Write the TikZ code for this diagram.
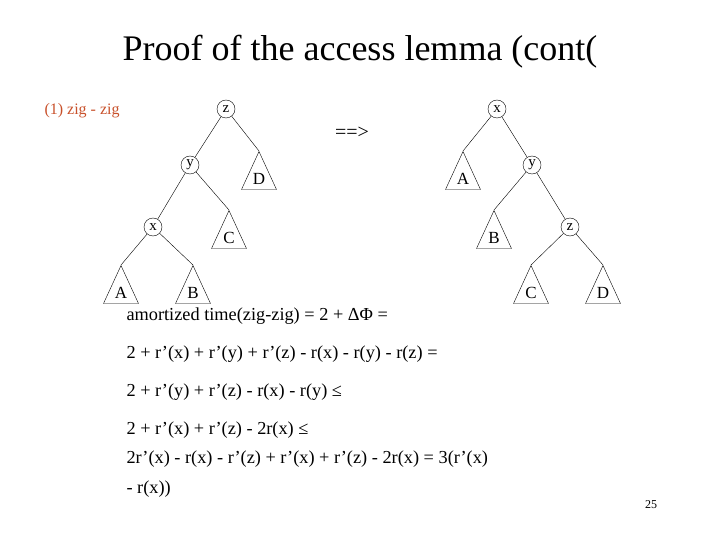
\documentclass[tikz,border=0pt]{standalone}
\usepackage{fontspec}
\usetikzlibrary{shapes.geometric}
\setmainfont{Liberation Serif}
\definecolor{zc}{HTML}{C8502A}
\begin{document}
\begin{tikzpicture}[x=1pt,y=-1pt,
  nd/.style={circle,draw,inner sep=0pt,minimum size=18pt,font=\fontsize{15}{15}\selectfont},
  tri/.style={draw,isosceles triangle,isosceles triangle stretches,shape border rotate=90,inner sep=0pt,minimum height=38pt,minimum width=35pt,anchor=apex},
  lbl/.style={font=\fontsize{17}{17}\selectfont},
  body/.style={anchor=west,font=\fontsize{18.3}{30}\selectfont,align=left}]
\useasboundingbox (0,0) rectangle (720,540);
\node[font=\fontsize{36}{36}\selectfont] (title) at (360,52) {Proof of the access lemma (cont(};
\node[anchor=west,text=zc,font=\fontsize{16}{16}\selectfont] (case) at (41,111) {(1) zig - zig};
% left tree
\node[nd] (lz) at (226,109) {z};
\node[nd] (ly) at (190,165) {y};
\node[nd] (lx) at (153,227) {x};
\node[tri] (lD) at (259,151) {};
\node[tri] (lC) at (229,210) {};
\node[tri] (lA) at (121,265) {};
\node[tri] (lB) at (193,265) {};
\foreach \t/\l in {lD/D,lC/C,lA/A,lB/B}{\node[lbl] at ([yshift=-28pt]\t.apex) {\l};}
\draw (lz) -- (ly) (lz) -- (lD.apex) (ly) -- (lx) (ly) -- (lC.apex) (lx) -- (lA.apex) (lx) -- (lB.apex);
% arrow
\node[font=\fontsize{20}{20}\selectfont] (arr) at (352,133) {==>};
% right tree
\node[nd] (rx) at (497,109) {x};
\node[nd] (ry) at (532,165) {y};
\node[nd] (rz) at (570,227) {z};
\node[tri] (rA) at (463,151) {};
\node[tri] (rB) at (494,210) {};
\node[tri] (rC) at (531,265) {};
\node[tri] (rD) at (603,265) {};
\foreach \t/\l in {rA/A,rB/B,rC/C,rD/D}{\node[lbl] at ([yshift=-28pt]\t.apex) {\l};}
\draw (rx) -- (rA.apex) (rx) -- (ry) (ry) -- (rB.apex) (ry) -- (rz) (rz) -- (rC.apex) (rz) -- (rD.apex);
% text
\node[body] (t1) at (123,316) {amortized time(zig-zig) = 2 + ΔΦ =};
\node[body] (t2) at (123,354) {2 + r’(x) + r’(y) + r’(z) - r(x) - r(y) - r(z) =};
\node[body] (t3) at (123,392) {2 + r’(y) + r’(z) - r(x) - r(y) ≤};
\node[body] (t4) at (123,430) {2 + r’(x) + r’(z) - 2r(x) ≤};
\node[body] (t5) at (123,474) {2r’(x) - r(x) - r’(z) + r’(x) + r’(z) - 2r(x) = 3(r’(x)\\- r(x))};
\node[font=\fontsize{12}{12}\selectfont] (pg) at (651,505) {25};
\end{tikzpicture}
\end{document}
